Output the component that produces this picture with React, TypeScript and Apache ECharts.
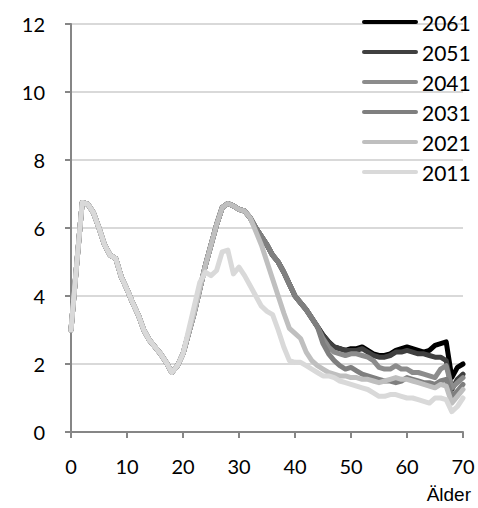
import React, { useEffect, useRef } from "react";
import * as echarts from "echarts";

const ages: number[] = Array.from({ length: 71 }, (_, i) => i);

const common0to19 = [3.0, 4.9, 6.75, 6.7, 6.45, 6.0, 5.5, 5.2, 5.1, 4.55, 4.2, 3.8, 3.45, 3.0, 2.7, 2.5, 2.3, 2.05, 1.75, 1.95];
const dark20to44 = [2.3, 2.9, 3.5, 4.2, 4.9, 5.5, 6.1, 6.6, 6.72, 6.65, 6.55, 6.5, 6.3, 6.0, 5.75, 5.5, 5.2, 5.0, 4.7, 4.35, 4.0, 3.8, 3.6, 3.35, 3.1];

const v2061 = [...common0to19, ...dark20to44,
  2.85, 2.65, 2.5, 2.45, 2.4, 2.45, 2.45, 2.5, 2.4, 2.3, 2.25, 2.25, 2.3, 2.4, 2.45, 2.5, 2.45, 2.4, 2.35, 2.4, 2.55, 2.6, 2.65, 1.6, 1.9, 2.0];
const v2051 = [...common0to19, ...dark20to44,
  2.85, 2.65, 2.5, 2.45, 2.4, 2.4, 2.4, 2.45, 2.35, 2.25, 2.2, 2.2, 2.25, 2.35, 2.35, 2.4, 2.35, 2.3, 2.3, 2.25, 2.2, 2.2, 2.1, 1.25, 1.55, 1.7];
const v2041 = [...common0to19, ...dark20to44,
  2.75, 2.5, 2.35, 2.3, 2.25, 2.3, 2.3, 2.25, 2.2, 2.1, 1.9, 1.85, 1.85, 1.95, 1.85, 1.85, 1.75, 1.75, 1.7, 1.65, 1.6, 1.85, 1.95, 1.3, 1.45, 1.6];
const v2031 = [...common0to19, ...dark20to44,
  2.6, 2.3, 2.1, 1.95, 1.85, 1.9, 1.8, 1.7, 1.65, 1.6, 1.55, 1.5, 1.5, 1.45, 1.5, 1.6, 1.55, 1.5, 1.45, 1.45, 1.4, 1.5, 1.55, 1.05, 1.2, 1.4];
const v2021 = [...common0to19,
  2.3, 2.9, 3.5, 4.2, 4.9, 5.5, 6.1, 6.6, 6.72, 6.65, 6.55, 6.5, 6.3, 5.9, 5.5, 5.0, 4.5, 4.0, 3.5, 3.05, 2.9, 2.75, 2.35, 2.1, 1.95,
  1.85, 1.75, 1.7, 1.65, 1.65, 1.6, 1.6, 1.55, 1.55, 1.5, 1.45, 1.5, 1.55, 1.6, 1.55, 1.55, 1.5, 1.45, 1.4, 1.35, 1.3, 1.4, 1.35, 0.85, 1.05, 1.25];
const v2011 = [...common0to19,
  2.3, 3.0, 3.7, 4.4, 4.7, 4.6, 4.75, 5.3, 5.35, 4.65, 4.85, 4.6, 4.3, 4.0, 3.7, 3.55, 3.45, 3.0, 2.5, 2.1, 2.05, 2.05, 1.95, 1.85, 1.75,
  1.65, 1.65, 1.6, 1.5, 1.45, 1.4, 1.35, 1.3, 1.25, 1.15, 1.05, 1.05, 1.1, 1.1, 1.05, 1.0, 1.0, 0.95, 0.9, 0.85, 1.0, 1.0, 0.95, 0.6, 0.75, 1.0];

const seriesNames = ["2061", "2051", "2041", "2031", "2021", "2011"];
const seriesValues = [v2061, v2051, v2041, v2031, v2021, v2011];
const seriesColors = ["#000000", "#404040", "#8c8c8c", "#7f7f7f", "#bfbfbf", "#d9d9d9"];

export default function App() {
  const ref = useRef<HTMLDivElement>(null);
  useEffect(() => {
    if (!ref.current) return;
    const chart = echarts.init(ref.current, undefined, { renderer: "svg" });
    chart.setOption({
      animation: false,
      backgroundColor: "#ffffff",
      grid: { left: 71, right: 15, top: 24, bottom: 76, containLabel: false },
      legend: {
        orient: "vertical",
        left: 357,
        top: 6,
        itemWidth: 56,
        itemHeight: 4,
        itemGap: 8,
        icon: "path://M2,0 L54,0 A2,2 0 0 1 54,4 L2,4 A2,2 0 0 1 2,0 Z",
        data: seriesNames,
        textStyle: { fontFamily: "Lato", fontSize: 21, color: "#000", lineHeight: 22, padding: [0, 0, 0, -1] },
      },
      xAxis: {
        type: "value",
        min: 0,
        max: 70,
        interval: 10,
        name: "Älder",
        nameLocation: "end",
        nameGap: 0,
        nameTextStyle: {
          fontFamily: "Liberation Sans",
          fontSize: 19,
          color: "#000",
          align: "right",
          verticalAlign: "top",
          padding: [53, -8, 0, 0],
        },
        splitLine: { show: false },
        axisLine: { show: true, onZero: false, lineStyle: { color: "#868686", width: 2 } },
        axisTick: { show: true, length: 6, lineStyle: { color: "#868686", width: 2 } },
        axisLabel: { fontFamily: "Lato", fontSize: 20, color: "#000", margin: 24 },
      },
      yAxis: {
        type: "value",
        min: 0,
        max: 12,
        interval: 2,
        splitLine: { show: true, lineStyle: { color: "#d9d9d9", width: 2 } },
        axisLine: { show: true, lineStyle: { color: "#868686", width: 2 } },
        axisTick: { show: true, length: 6, lineStyle: { color: "#868686", width: 2 } },
        axisLabel: { fontFamily: "Lato", fontSize: 20, color: "#000", margin: 26 },
      },
      series: seriesNames.map((name, i) => ({
        name,
        type: "line",
        data: ages.map((a, j) => [a, seriesValues[i][j]]),
        symbol: "none",
        lineStyle: { color: seriesColors[i], width: 5, join: "round", cap: "round" },
        itemStyle: { color: seriesColors[i] },
      })),
    });
    return () => chart.dispose();
  }, []);
  return <div ref={ref} style={{ width: 478, height: 508, position: "absolute", left: 0, top: 0 }} />;
}
